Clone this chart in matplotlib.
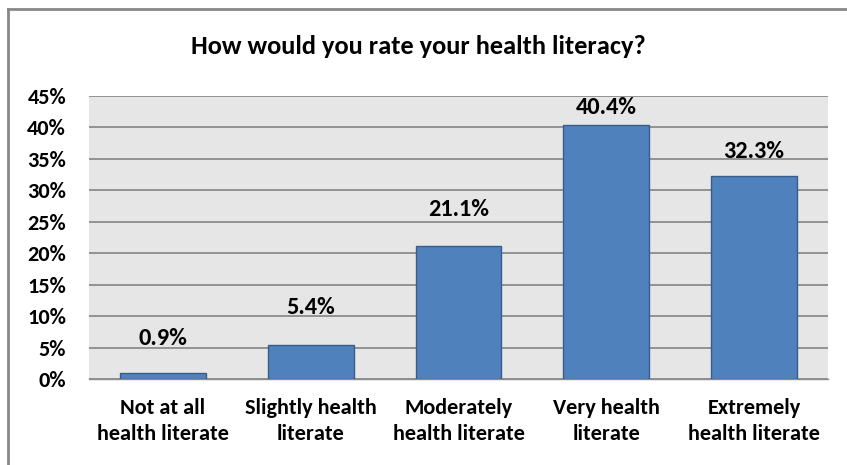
import matplotlib
matplotlib.use("Agg")
import matplotlib.pyplot as plt
from matplotlib.lines import Line2D

categories = ["Not at all\nhealth literate", "Slightly health\nliterate", "Moderately\nhealth literate",
              "Very health\nliterate", "Extremely\nhealth literate"]
values = [0.9, 5.4, 21.1, 40.4, 32.3]
label_y = [6.5, 11.3, 26.9, 43.1, 36.1]
yticks = [0, 5, 10, 15, 20, 25, 30, 35, 40, 45]
title = "How would you rate your health literacy?"

fam = ["Carlito", "DejaVu Sans"]

fig = plt.figure(figsize=(8.47, 4.65), dpi=100)
ax = fig.add_axes([89/847, 1-379/465, (828-89)/847, (379-96)/465])
ax.set_facecolor("#e6e6e6")
x = range(len(values))
ax.bar(x, values, width=0.58, color="#4f81bd", edgecolor="#385d8a", linewidth=1.0, zorder=3)
ax.set_xlim(-0.5, len(values)-0.5)
ax.set_ylim(0, 45)
ax.set_yticks(yticks)
ax.set_yticklabels([f"{t}%" for t in yticks], fontsize=16, fontweight="bold", family=fam)
ax.set_xticks(list(x))
ax.set_xticklabels(categories, fontsize=16, fontweight="bold", family=fam, linespacing=1.32)
ax.tick_params(axis="y", length=0, pad=16.5)
ax.tick_params(axis="x", length=0, pad=14)
ax.grid(axis="y", color="#8c8c8c", linewidth=1.3, zorder=1)
for s in ["top", "right", "left"]:
    ax.spines[s].set_visible(False)
ax.spines["bottom"].set_color("#8c8c8c")
ax.spines["bottom"].set_linewidth(1.0)

for xi, v, ly in zip(x, values, label_y):
    ax.text(xi, ly, f"{v:.1f}%", ha="center", va="center", fontsize=17.5, fontweight="bold", family=fam, zorder=4)

fig.text(0.494, 1-47/465, title, ha="center", va="center", fontsize=19, fontweight="bold", family=fam)

fig.add_artist(Line2D([8/847, 8/847], [0, 1-9/465], color="#888888", linewidth=2, transform=fig.transFigure))
fig.add_artist(Line2D([8/847, 1], [1-9/465, 1-9/465], color="#888888", linewidth=2, transform=fig.transFigure))

fig.savefig("out.png", dpi=100)
